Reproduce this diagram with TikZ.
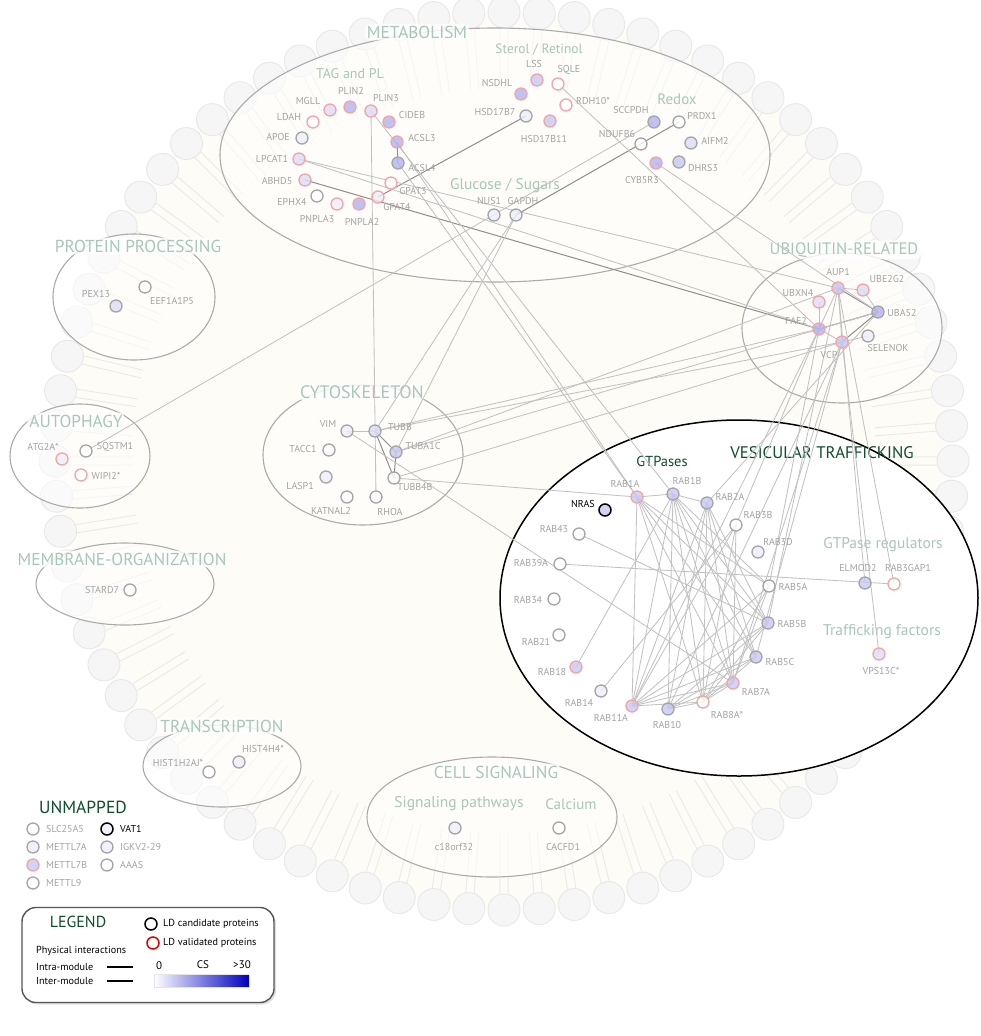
\documentclass[tikz,border=0pt]{standalone}
\usepackage{fontspec}
\setmainfont{PT Sans}
\usetikzlibrary{shadows}
\definecolor{cream}{HTML}{FDFCF6}
\definecolor{headf}{HTML}{F6F6F6}
\definecolor{headd}{HTML}{E8E8E8}
\definecolor{tailc}{HTML}{EAEAEA}
\definecolor{ellg}{HTML}{ABABAB}
\definecolor{modg}{HTML}{A7C7B7}
\definecolor{dkg}{HTML}{0E4D2A}
\definecolor{lblg}{HTML}{A3A3A3}
\definecolor{candg}{HTML}{A5A5A5}
\definecolor{valr}{HTML}{F3A5A5}
\definecolor{cs1}{HTML}{EEEEFB}
\definecolor{cs2}{HTML}{DDDDF8}
\definecolor{cs3}{HTML}{C8C8F4}
\definecolor{cs4}{HTML}{B2B2F0}
\definecolor{edgel}{HTML}{C2C2C2}
\definecolor{edged}{HTML}{8E8E8E}
\definecolor{csmax}{HTML}{0000C0}
\definecolor{legc}{HTML}{555555}
\pgfdeclarelayer{bg}\pgfdeclarelayer{edges}\pgfsetlayers{bg,edges,main}
\tikzset{
 prot/.style={circle, minimum size=12pt, inner sep=0pt, line width=1.3pt, fill opacity=0.8},
 c0/.style={prot, draw=candg, fill=white},
 c1/.style={prot, draw=candg, fill=cs1},
 c2/.style={prot, draw=candg, fill=cs2},
 c3/.style={prot, draw=candg, fill=cs3},
 c4/.style={prot, draw=candg, fill=cs4},
 v0/.style={prot, draw=valr, fill=white},
 v1/.style={prot, draw=valr, fill=cs1},
 v2/.style={prot, draw=valr, fill=cs2},
 v3/.style={prot, draw=valr, fill=cs3},
 v4/.style={prot, draw=valr, fill=cs4},
 bk/.style={prot, draw=black, fill=cs3, line width=1.5pt},
 lbl/.style={text=lblg, font=\fontsize{10}{11}\selectfont, inner sep=0pt},
 modt/.style={text=modg, font=\fontsize{17.3}{19}\selectfont, fill=white, fill opacity=0.8, text opacity=1, rounded corners=5pt, inner sep=2pt},
 subt/.style={text=modg, inner sep=1pt},
 dkt/.style={text=dkg, inner sep=1pt},
 modell/.style={draw=ellg, line width=1.1pt, fill=white, fill opacity=0.55},
 eL/.style={draw=edgel, line width=0.85pt},
 eD/.style={draw=edged, line width=1pt},
 lgt/.style={font=\fontsize{10.2}{11}\selectfont, inner sep=0pt, text=black},
}
\newcommand{\pn}[7]{\node[#4] (#1) at (#2,#3) {}; \node[lbl] (#1-l) at (#5,#6) {#7};}
\newcommand{\fs}[1]{\fontsize{#1}{#1}\selectfont}
\begin{document}
\begin{tikzpicture}[x=1pt,y=-1pt]
\useasboundingbox (0,0) rectangle (980,1036);
\begin{pgfonlayer}{bg}
\fill[white] (0,0) rectangle (980,1036);
\fill[cream] (504,461) circle[radius=449pt];
\begin{scope}[shift={(504,461)}]
\foreach \i in {0,...,79}{
  \pgfmathsetmacro\a{\i*4.5}
  \pgfmathsetmacro\ap{\a+0.55}\pgfmathsetmacro\am{\a-0.55}
  \pgfmathsetmacro\bp{\a+0.62}\pgfmathsetmacro\bm{\a-0.62}
  \draw[tailc, line width=0.9pt] (\ap:433pt) -- (\bp:372pt) (\am:433pt) -- (\bm:372pt);
}
\foreach \i in {0,...,79}{
  \pgfmathsetmacro\a{\i*4.5}
  \draw[headd, fill=headf, line width=0.9pt] (\a:449pt) circle[radius=16pt];
}
\end{scope}
% module ellipses
\draw[modell] (495,155) ellipse [x radius=275pt, y radius=127pt];
\draw[modell] (134,297) ellipse [x radius=81pt, y radius=63pt];
\draw[modell] (80,456) ellipse [x radius=70pt, y radius=52pt];
\draw[modell] (125,584) ellipse [x radius=89pt, y radius=41pt];
\draw[modell] (363,455) ellipse [x radius=100pt, y radius=70pt];
\draw[modell] (842,328) ellipse [x radius=100pt, y radius=75pt];
\draw[modell] (222,766) ellipse [x radius=79pt, y radius=41pt];
\draw[modell] (492,817) ellipse [x radius=125pt, y radius=60pt];
\draw[black, line width=1.5pt, fill=white] (739,598) ellipse [x radius=239pt, y radius=178pt];
% titles
\node[modt] (tmet) at (417,32) {METABOLISM};
\node[subt, font=\fs{14}] (ttag) at (350,74) {TAG and PL};
\node[subt, font=\fs{13.5}] (tster) at (539,50) {Sterol / Retinol};
\node[subt, font=\fs{15}] (tred) at (677,99) {Redox};
\node[subt, font=\fs{15.5}, fill=cream, fill opacity=0.7, text opacity=1] (tglu) at (505,186) {Glucose / Sugars};
\node[modt] (tpp) at (138,246) {PROTEIN PROCESSING};
\node[modt] (taut) at (76,421) {AUTOPHAGY};
\node[modt] (tmem) at (122,559) {MEMBRANE-ORGANIZATION};
\node[modt, font=\fs{18}] (tcyt) at (362,392) {CYTOSKELETON};
\node[modt, font=\fs{16.6}] (tubq) at (844,250) {UBIQUITIN-RELATED};
\node[modt] (ttra) at (222,726) {TRANSCRIPTION};
\node[modt] (tcel) at (496,772) {CELL SIGNALING};
\node[subt, font=\fs{15.5}] (tsig) at (459,804) {Signaling pathways};
\node[subt, font=\fs{15}] (tcal) at (571,804) {Calcium};
\node[subt, font=\fs{15.5}] (tgreg) at (883,545) {GTPase regulators};
\node[subt, font=\fs{15.5}] (ttf) at (882,632) {Trafficking factors};
\node[dkt, font=\fs{16.8}] (tves) at (822,453) {VESICULAR TRAFFICKING};
\node[dkt, font=\fs{14.5}] (tgtp) at (662,461) {GTPases};
\node[dkt, font=\fs{17.5}] (tunm) at (83,807) {UNMAPPED};
\end{pgfonlayer}

% ---------- proteins ----------
% metabolism
\pn{MGLL}{330}{110}{v2}{308}{101}{MGLL}
\pn{PLIN2}{350}{107}{v4}{351}{91}{PLIN2}
\pn{PLIN3}{371}{111}{v2}{386}{98}{PLIN3}
\pn{CIDEB}{389}{122}{v4}{412}{115}{CIDEB}
\pn{ACSL3}{397}{142}{v4}{422}{138}{ACSL3}
\pn{ACSL4}{398}{163}{c4}{422}{168}{ACSL4}
\pn{LDAH}{313}{122}{v0}{289}{117}{LDAH}
\pn{APOE}{302}{138}{c1}{278}{137}{APOE}
\pn{LPCAT1}{299}{159}{v2}{272}{159}{LPCAT1}
\pn{ABHD5}{305}{180}{v2}{277}{181}{ABHD5}
\pn{EPHX4}{317}{196}{c0}{292}{202}{EPHX4}
\pn{GPAT3}{391}{183}{v0}{413}{191}{GPAT3}
\pn{GPAT4}{378}{197}{v1}{397}{207}{GPAT4}
\pn{PNPLA3}{337}{204}{v1}{317}{219}{PNPLA3}
\pn{PNPLA2}{359}{204}{v4}{362}{222}{PNPLA2}
\pn{LSS}{537}{80}{v3}{534}{64}{LSS}
\pn{SQLE}{558}{84}{v0}{569}{70}{SQLE}
\pn{NSDHL}{521}{94}{v4}{497}{83}{NSDHL}
\pn{RDH10}{566}{105}{v0}{593}{101}{RDH10*}
\pn{HSD17B7}{526}{116}{c1}{495}{112}{HSD17B7}
\pn{HSD17B11}{550}{121}{v3}{544}{139}{HSD17B11}
\pn{SCCPDH}{654}{122}{c4}{631}{110}{SCCPDH}
\pn{PRDX1}{679}{122}{c0}{702}{116}{PRDX1}
\pn{AIFM2}{691}{143}{c2}{715}{141}{AIFM2}
\pn{NDUFB6}{641}{144}{c0}{617}{134}{NDUFB6}
\pn{DHRS3}{679}{162}{c3}{703}{168}{DHRS3}
\pn{CYB5R3}{656}{163}{v4}{642}{180}{CYB5R3}
\pn{NUS1}{494}{215}{c1}{489}{201}{NUS1}
\pn{GAPDH}{516}{215}{c1}{523}{201}{GAPDH}
% protein processing, autophagy, membrane
\pn{PEX13}{116}{306}{c2}{96}{294}{PEX13}
\pn{EEF1A1P5}{145}{287}{c0}{172}{301}{EEF1A1P5}
\pn{ATG2A}{62}{459}{v1}{43}{447}{ATG2A*}
\pn{SQSTM1}{86}{451}{c0}{115}{447}{SQSTM1}
\pn{WIPI2}{81}{475}{v0}{106}{476}{WIPI2*}
\pn{STARD7}{130}{590}{c0}{102}{590}{STARD7}
% cytoskeleton
\pn{VIM}{347}{431}{c1}{328}{424}{VIM}
\pn{TUBB}{375}{431}{c2}{400}{427}{TUBB}
\pn{TUBA1C}{396}{452}{c3}{423}{446}{TUBA1C}
\pn{TACC1}{329}{450}{c0}{303}{449}{TACC1}
\pn{LASP1}{326}{477}{c1}{300}{486}{LASP1}
\pn{TUBB4B}{394}{478}{c0}{415}{487}{TUBB4B}
\pn{KATNAL2}{347}{497}{c0}{331}{511}{KATNAL2}
\pn{RHOA}{376}{497}{c0}{390}{512}{RHOA}
% ubiquitin
\pn{AUP1}{838}{288}{v3}{838}{272}{AUP1}
\pn{UBE2G2}{863}{290}{v2}{887}{279}{UBE2G2}
\pn{UBXN4}{819}{302}{v2}{798}{293}{UBXN4}
\pn{UBA52}{878}{312}{c4}{902}{313}{UBA52}
\pn{FAF2}{819}{329}{v4}{796}{321}{FAF2}
\pn{VCP}{842}{342}{v3}{829}{355}{VCP}
\pn{SELENOK}{868}{336}{c1}{888}{348}{SELENOK}
% vesicular trafficking
\pn{RAB1A}{637}{497}{v3}{625}{484}{RAB1A}
\pn{RAB1B}{673}{494}{c3}{687}{481}{RAB1B}
\pn{RAB2A}{707}{503}{c3}{730}{497}{RAB2A}
\node[bk] (NRAS) at (605,510) {}; \node[lbl, text=black] (NRAS-l) at (583,504) {NRAS};
\pn{RAB43}{579}{534}{c0}{554}{529}{RAB43}
\pn{RAB39A}{560}{564}{c0}{531}{563}{RAB39A}
\pn{RAB34}{554}{599}{c0}{528}{600}{RAB34}
\pn{RAB21}{559}{635}{c0}{536}{642}{RAB21}
\pn{RAB18}{576}{667}{v3}{552}{672}{RAB18}
\pn{RAB14}{601}{691}{c1}{579}{703}{RAB14}
\pn{RAB11A}{632}{706}{v3}{611}{718}{RAB11A}
\pn{RAB10}{668}{709}{c3}{667}{725}{RAB10}
\pn{RAB8A}{703}{702}{v0}{727}{715}{RAB8A*}
\pn{RAB7A}{733}{683}{v3}{756}{692}{RAB7A}
\pn{RAB3B}{736}{525}{c0}{758}{515}{RAB3B}
\pn{RAB3D}{758}{552}{c1}{778}{542}{RAB3D}
\pn{RAB5A}{769}{586}{c0}{793}{587}{RAB5A}
\pn{RAB5B}{768}{623}{c3}{792}{624}{RAB5B}
\pn{RAB5C}{756}{657}{c3}{780}{662}{RAB5C}
\pn{ELMOD2}{865}{583}{c3}{858}{568}{ELMOD2}
\pn{RAB3GAP1}{894}{584}{v0}{908}{568}{RAB3GAP1}
\pn{VPS13C}{879}{654}{v2}{881}{671}{VPS13C*}
% transcription, cell signaling
\pn{HIST1H2AJ}{209}{772}{c0}{178}{763}{HIST1H2AJ*}
\pn{HIST4H4}{239}{762}{c1}{263}{749}{HIST4H4*}
\pn{C18orf32}{455}{828}{c1}{454}{847}{c18orf32}
\pn{CACFD1}{559}{828}{c0}{563}{847}{CACFD1}
% unmapped
\node[c0] (SLC25A5) at (33,829) {}; \node[lbl, anchor=west] (SLC25A5-l) at (46,829) {SLC25A5};
\node[c1] (METTL7A) at (33,847) {}; \node[lbl, anchor=west] (METTL7A-l) at (46,847) {METTL7A};
\node[v3] (METTL7B) at (33,865) {}; \node[lbl, anchor=west] (METTL7B-l) at (46,865) {METTL7B};
\node[c0] (METTL9) at (33,883) {}; \node[lbl, anchor=west] (METTL9-l) at (46,883) {METTL9};
\node[bk, fill=cs1] (VAT1) at (107,829) {}; \node[lbl, anchor=west, text=black] (VAT1-l) at (120,829) {VAT1};
\node[c1] (IGKV) at (107,847) {}; \node[lbl, anchor=west] (IGKV-l) at (120,847) {IGKV2-29};
\node[c0] (AAAS) at (107,865) {}; \node[lbl, anchor=west] (AAAS-l) at (120,865) {AAAS};

% ---------- edges ----------
\begin{pgfonlayer}{edges}
\foreach \u/\v in {ACSL3/ACSL4, HSD17B7/GPAT4, PRDX1/GAPDH, ABHD5/FAF2,
  TUBB/TUBA1C, TUBB/TUBB4B, TUBA1C/TUBB4B, AUP1/UBA52, FAF2/UBA52, VCP/UBA52}
  \draw[eD] (\u.center) -- (\v.center);
\foreach \u/\v in {PLIN3/RHOA, PLIN3/RAB1B, ACSL3/RAB1A, ACSL4/RAB1A, LPCAT1/AUP1, LPCAT1/FAF2,
  SQLE/FAF2, CYB5R3/UBA52, SCCPDH/SQSTM1, GAPDH/TUBB, GAPDH/TUBA1C,
  VIM/TUBB, TUBB/FAF2, TUBB/VCP, TUBA1C/AUP1, TUBA1C/UBA52, TUBB4B/VCP, TUBB4B/RAB1A, VIM/RAB7A,
  AUP1/UBE2G2, UBE2G2/UBA52, AUP1/FAF2, AUP1/VCP, FAF2/VCP, VCP/SELENOK, UBXN4/FAF2,
  FAF2/RAB3B, FAF2/RAB5A, FAF2/RAB11A, AUP1/RAB5B, VCP/RAB5C, VCP/RAB10, UBA52/RAB2A, VCP/RAB7A,
  AUP1/RAB3GAP1, AUP1/ELMOD2, VCP/VPS13C, RAB39A/RAB3GAP1, RAB43/RAB5B, RAB14/RAB3B, RAB18/RAB1B,
  RAB1A/RAB1B, RAB1B/RAB2A, RAB1A/RAB11A, RAB1A/RAB8A, RAB1A/RAB7A, RAB1A/RAB5C, RAB1A/RAB5B, RAB1A/RAB5A,
  RAB1B/RAB11A, RAB1B/RAB10, RAB1B/RAB8A, RAB1B/RAB7A, RAB1B/RAB5C, RAB1B/RAB5B, RAB1B/RAB5A,
  RAB2A/RAB11A, RAB2A/RAB10, RAB2A/RAB8A, RAB2A/RAB7A, RAB2A/RAB5C, RAB2A/RAB5B,
  RAB3B/RAB11A, RAB3B/RAB8A, RAB3B/RAB7A, RAB5A/RAB11A, RAB5A/RAB7A, RAB5A/RAB8A,
  RAB5B/RAB11A, RAB5B/RAB10, RAB5B/RAB8A, RAB5C/RAB11A, RAB5C/RAB10, RAB5C/RAB8A,
  RAB7A/RAB11A, RAB7A/RAB10, RAB7A/RAB8A, RAB8A/RAB11A, RAB10/RAB8A}
  \draw[eL] (\u.center) -- (\v.center);
\end{pgfonlayer}

% ---------- legend ----------
\node[draw=legc, line width=1.4pt, rounded corners=14pt, fill=white, minimum width=252pt, minimum height=95pt,
  drop shadow={opacity=0.25, shadow xshift=2pt, shadow yshift=-2pt}] (legend) at (148,955) {};
\node[dkt, font=\fs{16}] (legt) at (78,922) {LEGEND};
\node[circle, draw=black, line width=1.5pt, minimum size=12pt, inner sep=0pt] (lgc) at (151,924) {};
\node[lgt, anchor=west] (lgct) at (163,924) {LD candidate proteins};
\node[circle, draw=red!85!black, line width=1.5pt, minimum size=12pt, inner sep=0pt] (lgv) at (153,943) {};
\node[lgt, anchor=west] (lgvt) at (163,943) {LD validated proteins};
\node[lgt, anchor=west] (lpi) at (36,951) {Physical interactions};
\node[lgt, anchor=west] (lintra) at (36,967) {Intra-module};
\node[lgt, anchor=west] (linter) at (36,981) {Inter-module};
\coordinate (la1) at (107,967); \coordinate (la2) at (133,967);
\coordinate (lb1) at (107,981); \coordinate (lb2) at (133,981);
\draw[black, line width=1.4pt] (la1) -- (la2);
\draw[black, line width=1.1pt] (lb1) -- (lb2);
\node[lgt, font=\fs{11}] (l0) at (159,966) {0};
\node[lgt, font=\fs{11}] (lcs) at (203,965) {CS};
\node[lgt, font=\fs{11}] (l30) at (242,965) {>30};
\shade[left color=white, right color=csmax, draw=black!10] (154,974) rectangle (249,987);
\end{tikzpicture}
\end{document}
